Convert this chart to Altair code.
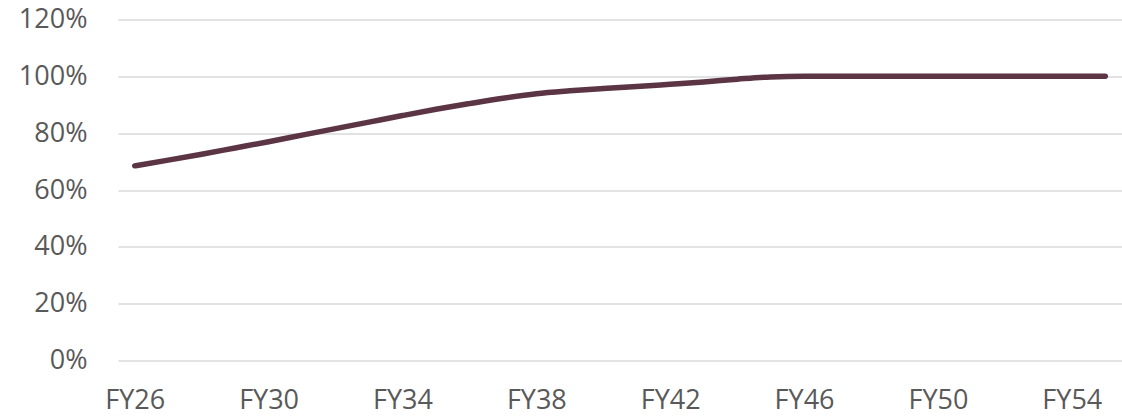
import altair as alt
import pandas as pd

# Fiscal years FY26 .. FY55
years = [f"FY{y}" for y in range(26, 56)]

# Share of target reached (fraction of 100%)
share = [
    0.685, 0.705, 0.726, 0.748, 0.770, 0.793, 0.816, 0.839, 0.862, 0.884,
    0.904, 0.923, 0.939, 0.949, 0.957, 0.964, 0.972, 0.980, 0.990, 0.998,
    1.000, 1.000, 1.000, 1.000, 1.000, 1.000, 1.000, 1.000, 1.000, 1.000,
]

shown_years = ["FY26", "FY30", "FY34", "FY38", "FY42", "FY46", "FY50", "FY54"]
y_ticks = [0, 0.2, 0.4, 0.6, 0.8, 1.0, 1.2]

df = pd.DataFrame({"year": years, "share": share})

FONT = "Open Sans"
LABEL_COLOR = "#595959"
LABEL_SIZE = 27

chart = (
    alt.Chart(df)
    .mark_line(color="#5b3544", strokeWidth=5.5, strokeCap="round", interpolate="monotone")
    .encode(
        x=alt.X(
            "year:O",
            sort=years,
            scale=alt.Scale(type="point", padding=0.5),
            axis=alt.Axis(
                values=shown_years,
                title=None,
                labelAngle=0,
                domain=False,
                ticks=False,
                grid=False,
                labelFont=FONT,
                labelFontSize=LABEL_SIZE,
                labelColor=LABEL_COLOR,
                labelPadding=48,
                labelBaseline="alphabetic",
            ),
        ),
        y=alt.Y(
            "share:Q",
            scale=alt.Scale(domain=[0, 1.2], nice=False, zero=True),
            axis=alt.Axis(
                values=y_ticks,
                format=".0%",
                title=None,
                domain=False,
                ticks=False,
                grid=True,
                gridColor="#d9d9d9",
                gridWidth=1.3,
                labelFont=FONT,
                labelFontSize=LABEL_SIZE,
                labelColor=LABEL_COLOR,
                labelPadding=31,
            ),
        ),
    )
    .properties(
        width=1004,
        height=341,
        background="white",
        autosize=alt.AutoSizeParams(type="none"),
        padding={"left": 118, "top": 19.5, "right": 0, "bottom": 55.5},
    )
    .configure_view(strokeWidth=0)
)

chart.save("out.html", embed_options={"renderer": "svg", "actions": False})
